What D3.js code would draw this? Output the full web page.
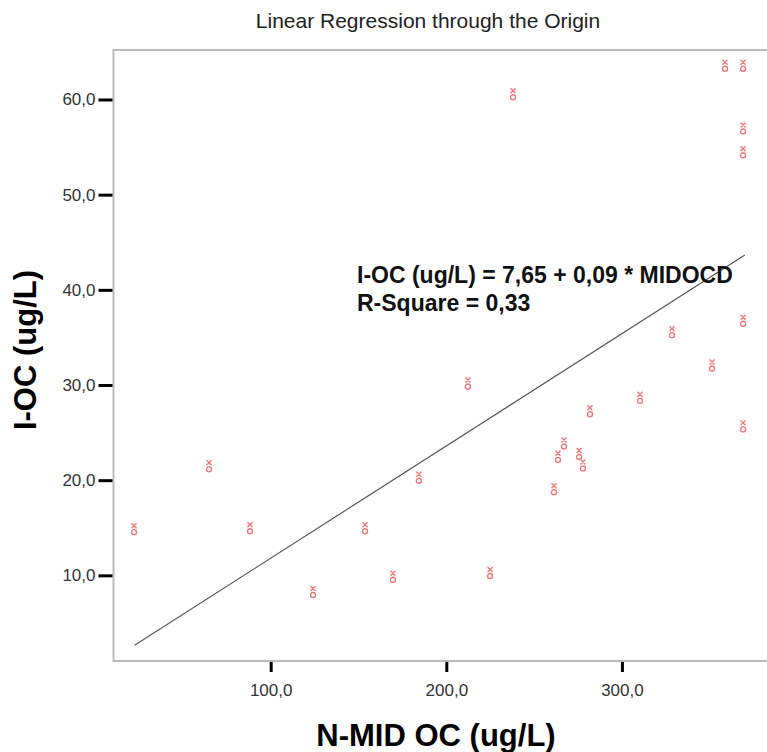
<!DOCTYPE html>
<html>
<head>
<meta charset="utf-8">
<script src="https://cdn.jsdelivr.net/npm/d3@7"></script>
<style>
  body { margin: 0; background: #fff; }
  text { font-family: "Liberation Sans", Arial, sans-serif; }
</style>
</head>
<body>
<div id="chart"></div>
<script>
// données
const midOC = [22.2, 64.9, 88.2, 124.1, 153.7, 169.6, 184.4, 212.3, 224.9, 238.0,
  261.3, 263.6, 267.0, 275.6, 277.8, 281.8, 310.3, 328.5, 351.3, 358.7,
  369.0, 369.0, 369.0, 369.0, 369.0];
const iOC = [14.8, 21.4, 14.9, 8.2, 14.9, 9.8, 20.2, 30.1, 10.2, 60.5,
  19.0, 22.4, 23.8, 22.7, 21.5, 27.2, 28.6, 35.5, 32.0, 63.5,
  63.5, 56.9, 54.4, 36.7, 25.6];
const xTicks = [100, 200, 300];
const yTicks = [10, 20, 30, 40, 50, 60];
const slope = 0.118; // droite passant par l'origine

const width = 767, height = 752;
const margin = { top: 50, right: 0, bottom: 91, left: 113.5 };

const svg = d3.select("#chart").append("svg")
    .attr("width", width)
    .attr("height", height);

const x = d3.scaleLinear().domain([10.5, 382.6]).range([margin.left, width - margin.right]);
const y = d3.scaleLinear().domain([1.0, 65.2]).range([height - margin.bottom, margin.top]);

const loc = d3.formatLocale({ decimal: ",", thousands: ".", grouping: [3], currency: ["", ""] });
const fmt = loc.format(".1f");

// titre
svg.append("text")
    .attr("x", 428).attr("y", 28)
    .attr("text-anchor", "middle")
    .attr("font-size", 21)
    .attr("fill", "#222")
    .text("Linear Regression through the Origin");

// cadre
svg.append("path")
    .attr("d", "M" + (width + 2) + "," + margin.top + " H" + margin.left + " V" + (height - margin.bottom) + " H" + (width + 2))
    .attr("fill", "none")
    .attr("stroke", "#bbb")
    .attr("stroke-width", 2);

// axes
const axeX = svg.append("g")
    .attr("transform", "translate(0," + (height - margin.bottom + 1) + ")")
    .call(d3.axisBottom(x).tickValues(xTicks).tickFormat(fmt).tickSize(10).tickPadding(12));
const axeY = svg.append("g")
    .attr("transform", "translate(" + (margin.left - 1) + ",0)")
    .call(d3.axisLeft(y).tickValues(yTicks).tickFormat(fmt).tickSize(14).tickPadding(3));

[axeX, axeY].forEach(a => {
  a.select(".domain").remove();
  a.selectAll(".tick line").attr("stroke", "#000").attr("stroke-width", 3);
  a.selectAll(".tick text")
      .attr("font-family", "Liberation Sans, Arial, sans-serif")
      .attr("font-size", 17)
      .attr("fill", "#333");
});

// titres des axes
svg.append("text")
    .attr("x", 436).attr("y", 746)
    .attr("text-anchor", "middle")
    .attr("font-size", 31).attr("font-weight", "bold")
    .text("N-MID OC (ug/L)");
svg.append("text")
    .attr("transform", "translate(36,350) rotate(-90)")
    .attr("text-anchor", "middle")
    .attr("font-size", 31).attr("font-weight", "bold")
    .text("I-OC (ug/L)");

// droite de régression
const xMin = d3.min(midOC) + 0.3, xMax = d3.max(midOC) + 1;
svg.append("line")
    .attr("x1", x(xMin)).attr("y1", y(slope * xMin))
    .attr("x2", x(xMax)).attr("y2", y(slope * xMax))
    .attr("stroke", "#555")
    .attr("stroke-width", 1.2);

// points
const marker = "M-2.5,-6.5 L2.5,-1.5 M2.5,-6.5 L-2.5,-1.5 M2.5,2.5 A2.5,2.5 0 1,1 -2.5,2.5 A2.5,2.5 0 1,1 2.5,2.5";
svg.selectAll(".pt")
    .data(midOC.map((d, i) => [d, iOC[i]]))
    .enter()
    .append("path")
    .attr("class", "pt")
    .attr("transform", d => "translate(" + x(d[0]) + "," + y(d[1]) + ")")
    .attr("d", marker)
    .attr("fill", "none")
    .attr("stroke", "#f07878")
    .attr("stroke-width", 1.4);

// équation
svg.append("text")
    .attr("x", 357).attr("y", 283)
    .attr("font-size", 23).attr("font-weight", "bold")
    .attr("fill", "#111")
    .text("I-OC (ug/L) = 7,65 + 0,09 * MIDOCD");
svg.append("text")
    .attr("x", 357).attr("y", 311)
    .attr("font-size", 23).attr("font-weight", "bold")
    .attr("fill", "#111")
    .text("R-Square = 0,33");
</script>
</body>
</html>
